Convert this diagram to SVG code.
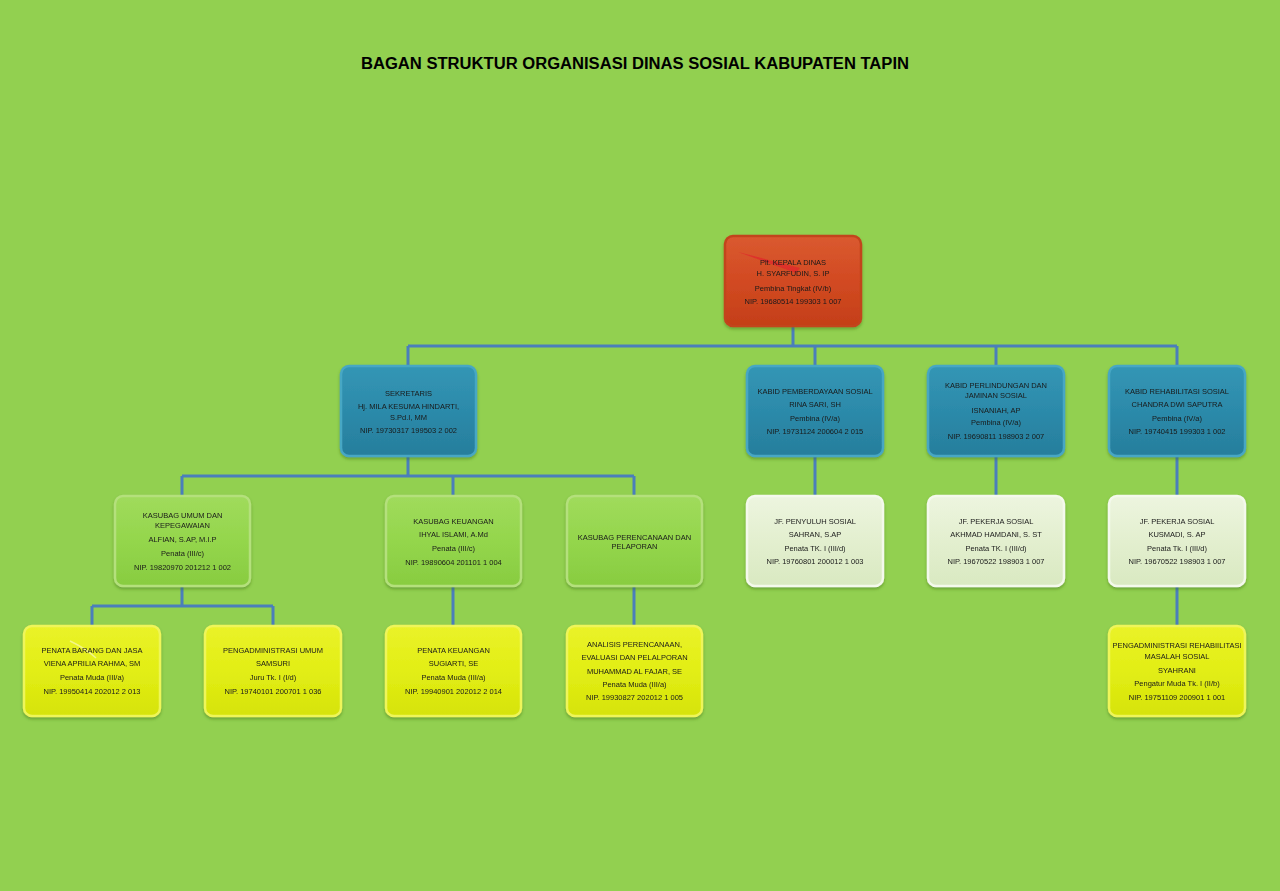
<svg xmlns="http://www.w3.org/2000/svg" width="1280" height="891" viewBox="0 0 1280 891">
<defs>
<linearGradient id="gOr" x1="0" y1="0" x2="0" y2="1"><stop offset="0" stop-color="#DA5A30"/><stop offset="0.5" stop-color="#D24A22"/><stop offset="1" stop-color="#C43F18"/></linearGradient>
<linearGradient id="gTe" x1="0" y1="0" x2="0" y2="1"><stop offset="0" stop-color="#3396B5"/><stop offset="0.5" stop-color="#2C8AAA"/><stop offset="1" stop-color="#267E9C"/></linearGradient>
<linearGradient id="gGr" x1="0" y1="0" x2="0" y2="1"><stop offset="0" stop-color="#A0DB5C"/><stop offset="0.5" stop-color="#94D64C"/><stop offset="1" stop-color="#88CC40"/></linearGradient>
<linearGradient id="gLi" x1="0" y1="0" x2="0" y2="1"><stop offset="0" stop-color="#EDF5DF"/><stop offset="0.5" stop-color="#E3EFCF"/><stop offset="1" stop-color="#D9E9C1"/></linearGradient>
<linearGradient id="gYe" x1="0" y1="0" x2="0" y2="1"><stop offset="0" stop-color="#EAF22A"/><stop offset="0.5" stop-color="#E2EE14"/><stop offset="1" stop-color="#D6E30C"/></linearGradient>
<filter id="sh" x="-10%" y="-10%" width="120%" height="130%"><feDropShadow dx="0" dy="2" stdDeviation="1.5" flood-color="#3C6A1A" flood-opacity="0.45"/></filter>
</defs>
<style>
.t{font-family:"Liberation Sans",Arial,sans-serif;font-size:7.5px;fill:#1A1A1A;text-anchor:middle}
.title{font-family:"Liberation Sans",Arial,sans-serif;font-size:16px;font-weight:bold;fill:#000;text-anchor:middle}
.n{filter:url(#sh)}
.or{fill:url(#gOr);stroke:#C2441E;stroke-width:2.5}
.te{fill:url(#gTe);stroke:#47A7C4;stroke-width:2.5}
.gr{fill:url(#gGr);stroke:#B4E07C;stroke-width:2.5}
.li{fill:url(#gLi);stroke:#F4F9EC;stroke-width:2.5}
.ye{fill:url(#gYe);stroke:#EEF55A;stroke-width:2.5}
.c{stroke:#4A7EBB;stroke-width:3;fill:none}
</style>
<rect width="1280" height="891" fill="#92D050"/>
<text class="title" x="635" y="69" textLength="548" lengthAdjust="spacingAndGlyphs">BAGAN STRUKTUR ORGANISASI DINAS SOSIAL KABUPATEN TAPIN</text>

<g id="connectors">
<path class="c" d="M793 326V346M408 346H1177M408 346V366M815 346V366M996 346V366M1177 346V366"/>
<path class="c" d="M408 456V476M182 476H634M182 476V496M453 476V496M634 476V496"/>
<path class="c" d="M815 456V496M996 456V496M1177 456V496"/>
<path class="c" d="M182 586V606M92 606H273M92 606V626M273 606V626M453 586V626M634 586V626M1177 586V626"/>
</g>

<g id="kepala" class="n">
<rect class="or" x="725" y="236" width="136" height="90" rx="8"/>
<polygon points="738,252 800,268 796,273" fill="#E0282A" opacity="0.8"/>
<text class="t" x="793" y="264.5">Plt. KEPALA DINAS</text>
<text class="t" x="793" y="276">H. SYARFUDIN, S. IP</text>
<text class="t" x="793" y="290.5">Pembina Tingkat (IV/b)</text>
<text class="t" x="793" y="303.5">NIP.  19680514 199303 1 007</text>
</g>

<g id="sekretaris" class="n">
<rect class="te" x="341" y="366" width="135" height="90" rx="8"/>
<text class="t" x="408.5" y="395.5">SEKRETARIS</text>
<text class="t" x="408.5" y="408.5">Hj. MILA KESUMA HINDARTI,</text>
<text class="t" x="408.5" y="419.5">S.Pd.I, MM</text>
<text class="t" x="408.5" y="432.5">NIP. 19730317 199503 2 002</text>
</g>

<g id="kabid-pemberdayaan" class="n">
<rect class="te" x="747" y="366" width="136" height="90" rx="8"/>
<text class="t" x="815" y="394">KABID PEMBERDAYAAN SOSIAL</text>
<text class="t" x="815" y="406.5">RINA SARI, SH</text>
<text class="t" x="815" y="420.5">Pembina (IV/a)</text>
<text class="t" x="815" y="433.5">NIP. 19731124 200604 2 015</text>
</g>

<g id="kabid-perlindungan" class="n">
<rect class="te" x="928" y="366" width="136" height="90" rx="8"/>
<text class="t" x="996" y="387.5">KABID PERLINDUNGAN DAN</text>
<text class="t" x="996" y="397.5">JAMINAN SOSIAL</text>
<text class="t" x="996" y="412.5">ISNANIAH, AP</text>
<text class="t" x="996" y="424.5">Pembina (IV/a)</text>
<text class="t" x="996" y="438.5">NIP. 19690811 198903 2 007</text>
</g>

<g id="kabid-rehabilitasi" class="n">
<rect class="te" x="1109" y="366" width="136" height="90" rx="8"/>
<text class="t" x="1177" y="394">KABID  REHABILITASI SOSIAL</text>
<text class="t" x="1177" y="406.5">CHANDRA DWI SAPUTRA</text>
<text class="t" x="1177" y="420.5">Pembina (IV/a)</text>
<text class="t" x="1177" y="433.5">NIP. 19740415 199303 1 002</text>
</g>

<g id="kasubag-umum" class="n">
<rect class="gr" x="115" y="496" width="135" height="90" rx="8"/>
<text class="t" x="182.5" y="517.5">KASUBAG UMUM DAN</text>
<text class="t" x="182.5" y="527.5">KEPEGAWAIAN</text>
<text class="t" x="182.5" y="541.5">ALFIAN, S.AP, M.I.P</text>
<text class="t" x="182.5" y="555.5">Penata (III/c)</text>
<text class="t" x="182.5" y="569.5">NIP. 19820970 201212 1 002</text>
</g>

<g id="kasubag-keuangan" class="n">
<rect class="gr" x="386" y="496" width="135" height="90" rx="8"/>
<text class="t" x="453.5" y="523.5">KASUBAG KEUANGAN</text>
<text class="t" x="453.5" y="536.5">IHYAL ISLAMI, A.Md</text>
<text class="t" x="453.5" y="550.5">Penata (III/c)</text>
<text class="t" x="453.5" y="564.5">NIP. 19890604 201101 1 004</text>
</g>

<g id="kasubag-perencanaan" class="n">
<rect class="gr" x="567" y="496" width="135" height="90" rx="8"/>
<text class="t" x="634.5" y="539.5">KASUBAG PERENCANAAN DAN</text>
<text class="t" x="634.5" y="549">PELAPORAN</text>
</g>

<g id="jf-penyuluh" class="n">
<rect class="li" x="747" y="496" width="136" height="90" rx="8"/>
<text class="t" x="815" y="523.5">JF. PENYULUH SOSIAL</text>
<text class="t" x="815" y="537">SAHRAN, S.AP</text>
<text class="t" x="815" y="550.5">Penata TK. I (III/d)</text>
<text class="t" x="815" y="564">NIP. 19760801 200012 1 003</text>
</g>

<g id="jf-pekerja-akhmad" class="n">
<rect class="li" x="928" y="496" width="136" height="90" rx="8"/>
<text class="t" x="996" y="523.5">JF. PEKERJA SOSIAL</text>
<text class="t" x="996" y="537">AKHMAD HAMDANI, S. ST</text>
<text class="t" x="996" y="550.5">Penata TK. I (III/d)</text>
<text class="t" x="996" y="564">NIP. 19670522 198903 1 007</text>
</g>

<g id="jf-pekerja-kusmadi" class="n">
<rect class="li" x="1109" y="496" width="136" height="90" rx="8"/>
<text class="t" x="1177" y="523.5">JF. PEKERJA SOSIAL</text>
<text class="t" x="1177" y="537">KUSMADI, S. AP</text>
<text class="t" x="1177" y="550.5">Penata Tk. I (III/d)</text>
<text class="t" x="1177" y="564">NIP. 19670522 198903 1 007</text>
</g>

<g id="penata-barang" class="n">
<rect class="ye" x="24" y="626" width="136" height="90" rx="8"/>
<path d="M70 641 Q85 648 96 658" stroke="#F6F7A0" stroke-width="1.5" fill="none" opacity="0.8"/>
<text class="t" x="92" y="652.5">PENATA BARANG DAN JASA</text>
<text class="t" x="92" y="665.5">VIENA APRILIA RAHMA, SM</text>
<text class="t" x="92" y="679.5">Penata Muda (III/a)</text>
<text class="t" x="92" y="693.5">NIP. 19950414 202012 2 013</text>
</g>

<g id="pengadministrasi-umum" class="n">
<rect class="ye" x="205" y="626" width="136" height="90" rx="8"/>
<text class="t" x="273" y="652.5">PENGADMINISTRASI  UMUM</text>
<text class="t" x="273" y="665.5">SAMSURI</text>
<text class="t" x="273" y="679.5">Juru Tk. I (I/d)</text>
<text class="t" x="273" y="693.5">NIP. 19740101 200701 1 036</text>
</g>

<g id="penata-keuangan" class="n">
<rect class="ye" x="386" y="626" width="135" height="90" rx="8"/>
<text class="t" x="453.5" y="652.5">PENATA KEUANGAN</text>
<text class="t" x="453.5" y="665.5">SUGIARTI, SE</text>
<text class="t" x="453.5" y="679.5">Penata Muda (III/a)</text>
<text class="t" x="453.5" y="693.5">NIP. 19940901 202012 2 014</text>
</g>

<g id="analisis" class="n">
<rect class="ye" x="567" y="626" width="135" height="90" rx="8"/>
<text class="t" x="634.5" y="646.5">ANALISIS  PERENCANAAN,</text>
<text class="t" x="634.5" y="659.5">EVALUASI DAN PELALPORAN</text>
<text class="t" x="634.5" y="673.5">MUHAMMAD AL FAJAR, SE</text>
<text class="t" x="634.5" y="686.5">Penata Muda (III/a)</text>
<text class="t" x="634.5" y="700">NIP. 19930827 202012 1 005</text>
</g>

<g id="pengadministrasi-rehabilitasi" class="n">
<rect class="ye" x="1109" y="626" width="136" height="90" rx="8"/>
<text class="t" x="1177" y="647.5">PENGADMINISTRASI  REHABIILITASI</text>
<text class="t" x="1177" y="658.5">MASALAH SOSIAL</text>
<text class="t" x="1177" y="672.5">SYAHRANI</text>
<text class="t" x="1177" y="686">Pengatur Muda Tk. I  (II/b)</text>
<text class="t" x="1177" y="699.5">NIP. 19751109 200901 1 001</text>
</g>
</svg>
